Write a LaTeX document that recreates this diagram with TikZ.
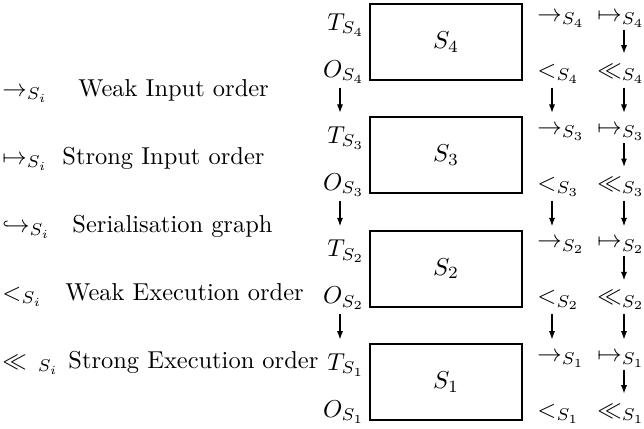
\documentclass[tikz,border=0pt]{standalone}
\usetikzlibrary{arrows.meta}
\begin{document}
\begin{tikzpicture}[x=0.409pt, y=-0.409pt,
stage/.style={draw, line width=0.7pt, minimum width=62.2pt, minimum height=31.1pt, inner sep=0pt},
sym/.style={inner sep=0pt, text height=7pt, text depth=2pt},
item/.style={inner sep=0pt, anchor=base west},
flow/.style={-{Latex[length=3.4pt,width=2.5pt]}, line width=0.45pt}]
\useasboundingbox (0,0) rectangle (644,428);
% legend
\node[item] (k1) at (2,96) {$\rightarrow_{S_i}$};
\node[item] (d1) at (78,96) {Weak Input order};
\node[item] (k2) at (2,164) {$\mapsto_{S_i}$};
\node[item] (d2) at (62,164) {Strong Input order};
\node[item] (k3) at (2,232) {$\hookrightarrow_{S_i}$};
\node[item] (d3) at (72,232) {Serialisation graph};
\node[item] (k4) at (2,300) {$<_{S_i}$};
\node[item] (d4) at (65,300) {Weak Execution order};
\node[item] (k5) at (2,368) {$\ll\,{}_{S_i}$};
\node[item] (d5) at (68,368) {Strong Execution order};
% columns of the arrows
\coordinate (lc) at (340,0);
\coordinate (c1) at (552,0);
\coordinate (c2) at (624,0);
% the four stages
\foreach \k/\b in {4/4, 3/117.3, 2/230.7, 1/344} {
  \node[stage] (s\k) at (446,\b+38) {$S_\k$};
  \node[sym, anchor=base east] (t\k) at (365,\b+26) {$T_{S_\k}$};
  \node[sym, anchor=base east] (o\k) at (365,\b+73) {$O_{S_\k}$};
  \node[sym, anchor=base west] (wi\k) at (537,\b+17) {$\rightarrow_{S_\k}$};
  \node[sym, anchor=base west] (si\k) at (597,\b+17) {$\mapsto_{S_\k}$};
  \node[sym, anchor=base west] (we\k) at (537,\b+73) {$<_{S_\k}$};
  \node[sym, anchor=base west] (se\k) at (597,\b+73) {$\ll_{S_\k}$};
  \draw[flow, shorten <=1.3pt, shorten >=2.4pt] (si\k.south -| c2) -- (se\k.north -| c2);
}
\foreach \k/\j in {4/3, 3/2, 2/1} {
  \draw[flow, shorten <=2.1pt, shorten >=5.3pt] (o\k.south -| lc) -- (t\j.north -| lc);
  \draw[flow, shorten <=2.1pt, shorten >=1.6pt] (we\k.south -| c1) -- (wi\j.north -| c1);
  \draw[flow, shorten <=2.1pt, shorten >=1.6pt] (se\k.south -| c2) -- (si\j.north -| c2);
}
\end{tikzpicture}
\end{document}
